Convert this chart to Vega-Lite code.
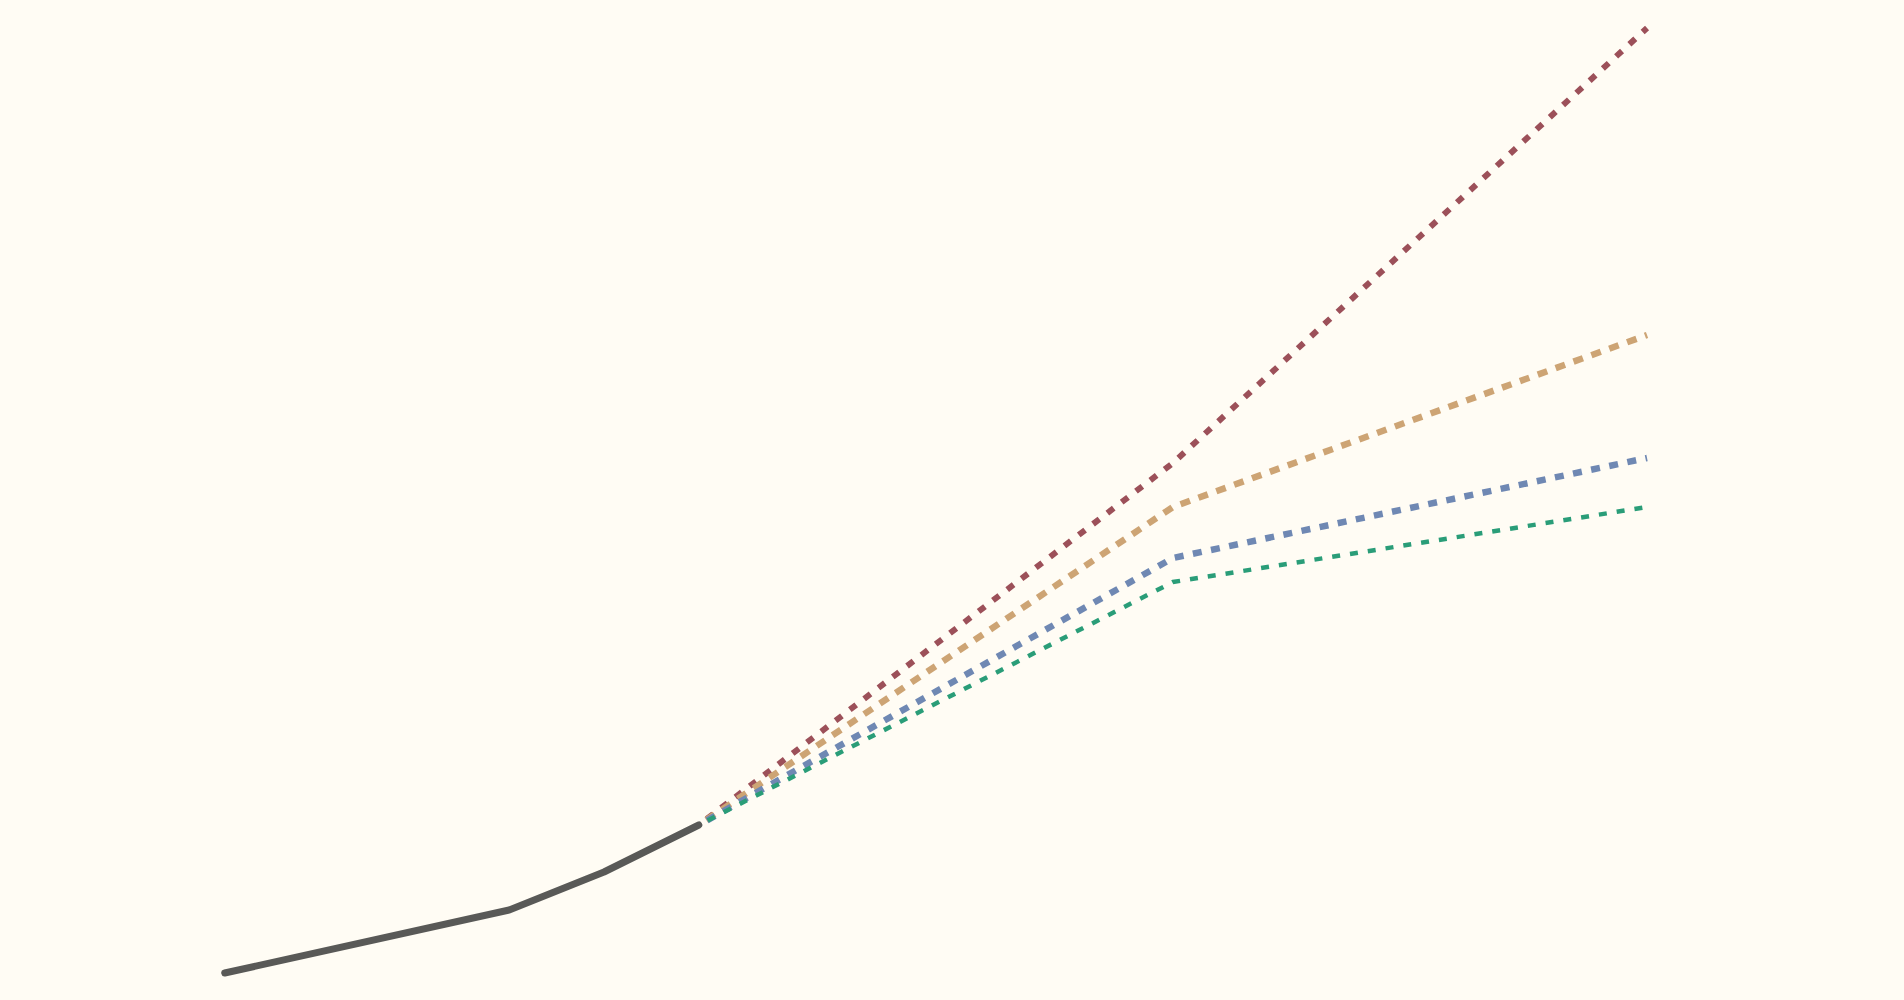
{
  "$schema": "https://vega.github.io/schema/vega-lite/v6.json",
  "width": 1904,
  "height": 1000,
  "autosize": {"type": "fit", "contains": "padding"},
  "padding": 0,
  "background": "#fffcf4",
  "data": {
    "values": [
      {"year": 1950, "value": 2.7, "series": "Historical"},
      {"year": 1980, "value": 9.0, "series": "Historical"},
      {"year": 1990, "value": 12.8, "series": "Historical"},
      {"year": 2000, "value": 17.5, "series": "Historical"},
      {"year": 2000, "value": 17.5, "series": "High"},
      {"year": 2050, "value": 53.7, "series": "High"},
      {"year": 2100, "value": 97.2, "series": "High"},
      {"year": 2000, "value": 17.5, "series": "Upper"},
      {"year": 2050, "value": 49.3, "series": "Upper"},
      {"year": 2100, "value": 66.5, "series": "Upper"},
      {"year": 2000, "value": 17.5, "series": "Middle"},
      {"year": 2050, "value": 44.2, "series": "Middle"},
      {"year": 2100, "value": 54.2, "series": "Middle"},
      {"year": 2000, "value": 17.5, "series": "Low"},
      {"year": 2050, "value": 41.8, "series": "Low"},
      {"year": 2100, "value": 49.3, "series": "Low"}
    ]
  },
  "encoding": {
    "x": {
      "field": "year",
      "type": "quantitative",
      "scale": {"domain": [1926.3, 2127.1], "nice": false, "zero": false},
      "axis": null
    },
    "y": {
      "field": "value",
      "type": "quantitative",
      "scale": {"domain": [0, 100], "nice": false},
      "axis": null
    },
    "order": {"field": "year", "type": "quantitative"}
  },
  "layer": [
    {
      "transform": [{"filter": "datum.series === 'High'"}],
      "mark": {"type": "line", "color": "#9c5059", "strokeWidth": 6, "strokeDash": [8, 10], "strokeDashOffset": 8, "strokeCap": "butt"}
    },
    {
      "transform": [{"filter": "datum.series === 'Upper'"}],
      "mark": {"type": "line", "color": "#cda474", "strokeWidth": 6.5, "strokeDash": [10, 9], "strokeDashOffset": 10, "strokeCap": "butt"}
    },
    {
      "transform": [{"filter": "datum.series === 'Middle'"}],
      "mark": {"type": "line", "color": "#6f88b3", "strokeWidth": 6.5, "strokeDash": [9, 9.5], "strokeDashOffset": 9, "strokeCap": "butt"}
    },
    {
      "transform": [{"filter": "datum.series === 'Low'"}],
      "mark": {"type": "line", "color": "#2a9d78", "strokeWidth": 4.5, "strokeDash": [8, 10], "strokeDashOffset": 8, "strokeCap": "butt"}
    },
    {
      "transform": [{"filter": "datum.series === 'Historical'"}],
      "mark": {"type": "line", "color": "#595957", "strokeWidth": 7, "strokeCap": "round", "strokeJoin": "round"}
    }
  ],
  "config": {
    "view": {"stroke": null}
  }
}
